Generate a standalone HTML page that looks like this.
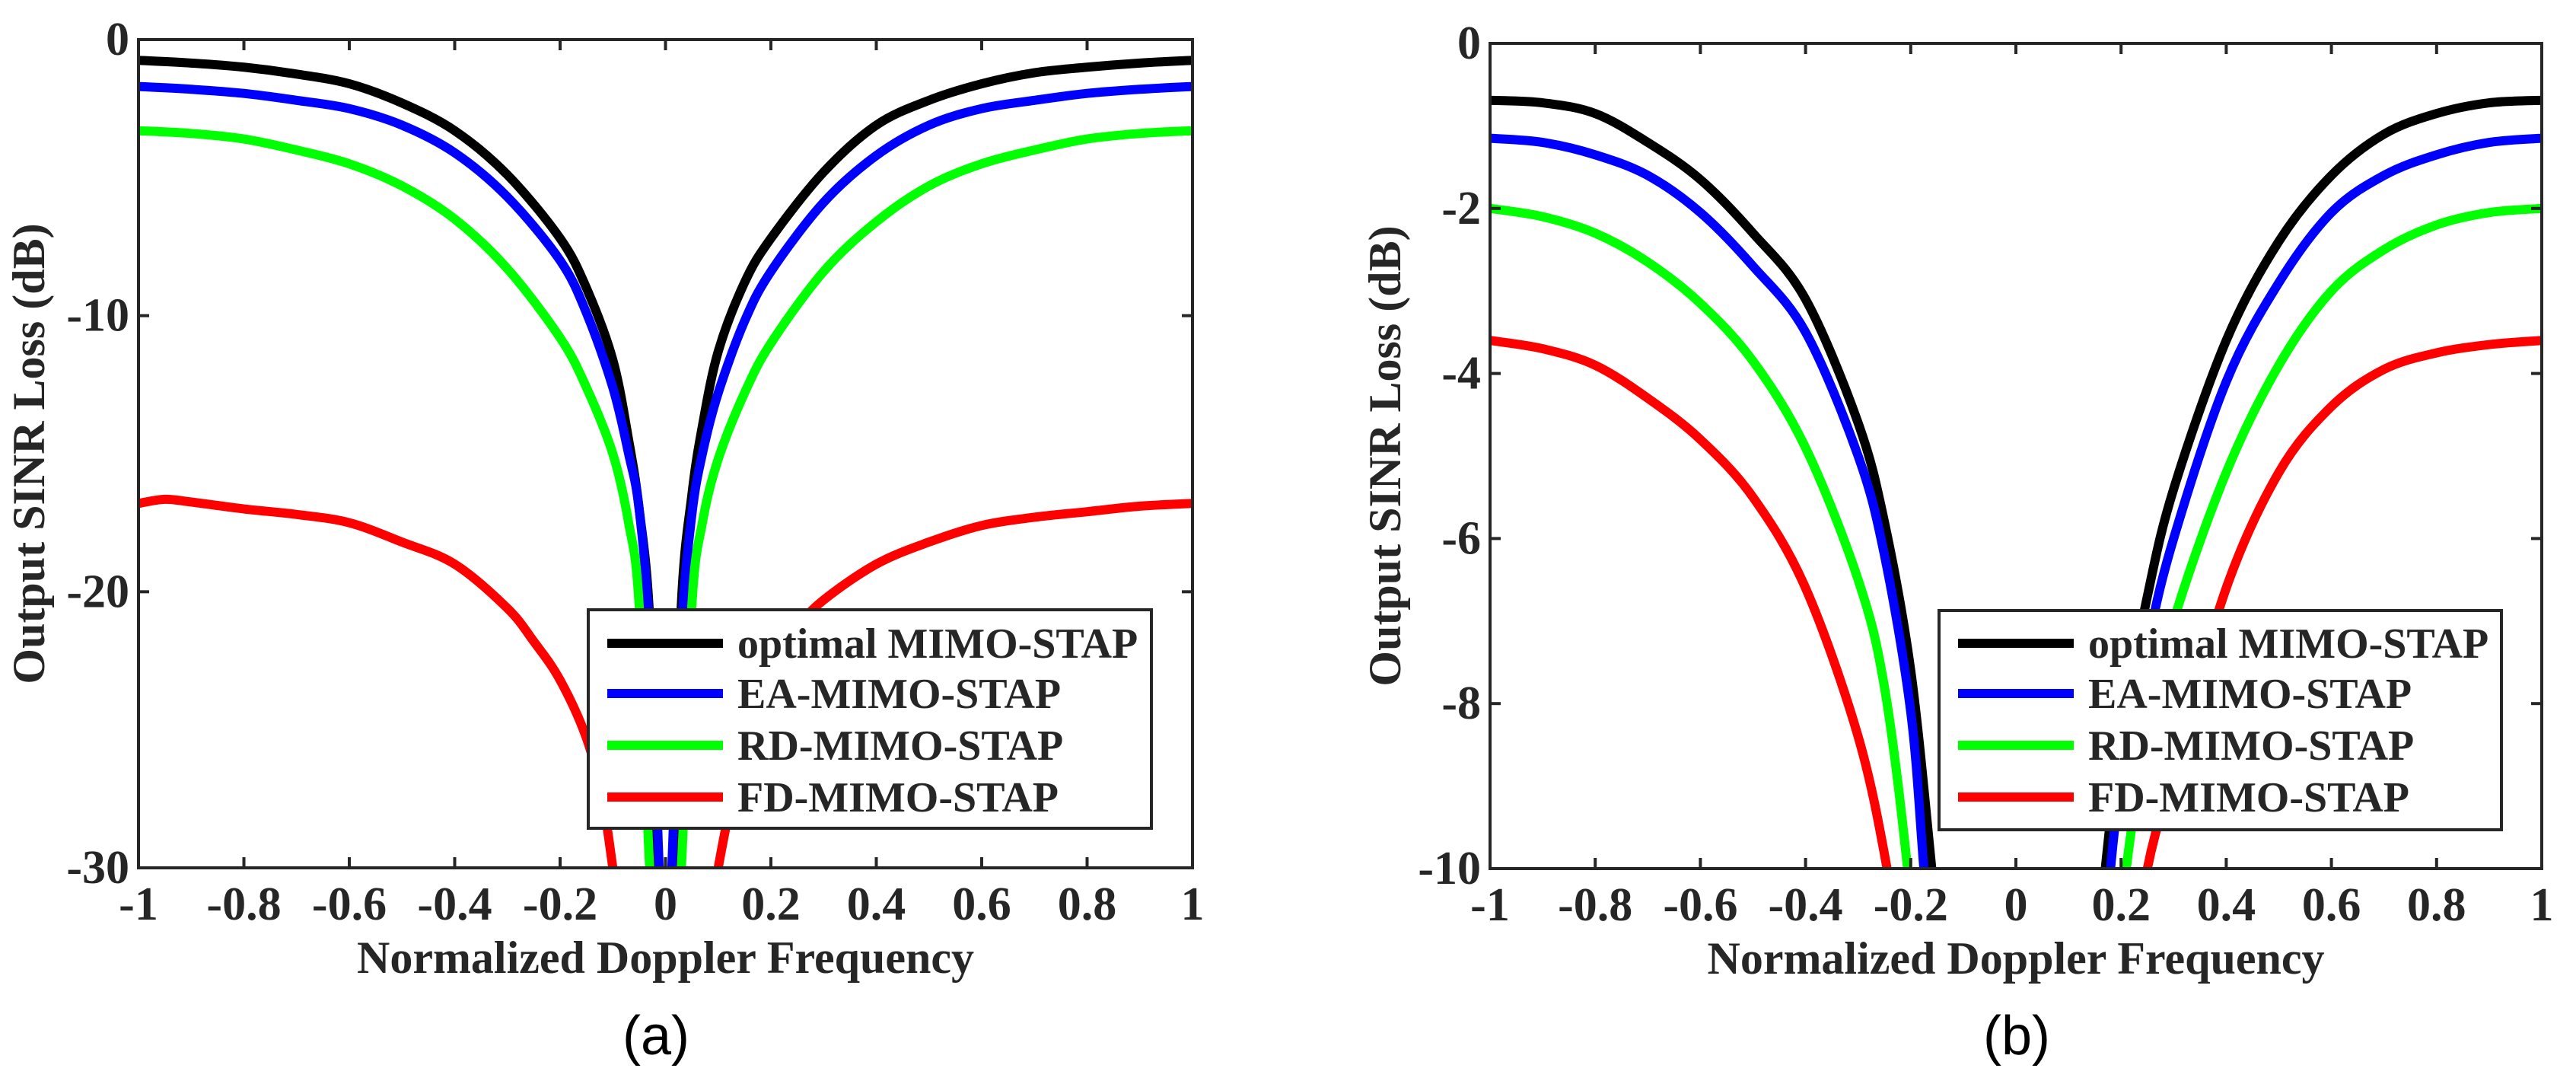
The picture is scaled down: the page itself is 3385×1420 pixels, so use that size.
<!DOCTYPE html>
<html><head><meta charset="utf-8"><style>
html,body{margin:0;padding:0;background:#fff;overflow:hidden;}
svg{display:block;}
text{font-family:"Liberation Serif",serif;font-weight:bold;fill:#262626;}
</style></head><body>
<svg id="fig" width="3385" height="1420" viewBox="0 0 3385 1420" xmlns="http://www.w3.org/2000/svg"></svg>
<script>
// ---- Panel (a) data ----
const xA_black=[-1,-0.9,-0.8,-0.7,-0.6,-0.5,-0.4,-0.3,-0.2,-0.15,-0.1,-0.07,-0.05,-0.03,-0.015,-0.005,0.005,0.015,0.03,0.05,0.07,0.1,0.15,0.2,0.3,0.4,0.5,0.6,0.7,0.8,0.9,1];
const yA_black=[-0.75,-0.85,-1.0,-1.25,-1.6,-2.3,-3.3,-4.9,-7.2,-9.0,-11.6,-14.5,-17,-21,-30,-36,-36,-30,-20.5,-16.5,-14,-11.3,-8.8,-7.2,-4.8,-3.1,-2.2,-1.6,-1.2,-1.0,-0.85,-0.75];
const xA_blue=[-1,-0.9,-0.8,-0.7,-0.6,-0.5,-0.4,-0.3,-0.2,-0.15,-0.1,-0.07,-0.05,-0.03,-0.012,0,0.012,0.03,0.05,0.07,0.1,0.15,0.2,0.3,0.4,0.5,0.6,0.7,0.8,0.9,1];
const yA_blue=[-1.7,-1.8,-1.95,-2.2,-2.5,-3.1,-4.1,-5.7,-8.0,-9.9,-12.6,-15,-17,-21.5,-30,-36,-30,-21.5,-17.2,-15,-12.8,-10.2,-8.4,-5.9,-4.2,-3.1,-2.5,-2.2,-1.95,-1.8,-1.7];
const xA_green=[-1,-0.9,-0.8,-0.7,-0.6,-0.5,-0.4,-0.3,-0.2,-0.15,-0.1,-0.07,-0.05,-0.03,0,0.03,0.05,0.07,0.1,0.15,0.2,0.3,0.4,0.5,0.6,0.7,0.8,0.9,1];
const yA_green=[-3.3,-3.4,-3.6,-4.0,-4.5,-5.3,-6.5,-8.3,-10.8,-12.6,-15,-17.5,-20.5,-30,-38,-30,-20.5,-17.5,-15.2,-12.8,-11,-8.4,-6.6,-5.3,-4.5,-4.0,-3.6,-3.4,-3.3];
const xA_red=[-1,-0.95,-0.9,-0.8,-0.7,-0.6,-0.5,-0.4,-0.3,-0.25,-0.2,-0.15,-0.12,-0.1,-0.08,0.08,0.1,0.15,0.2,0.25,0.3,0.4,0.5,0.6,0.7,0.8,0.9,1];
const yA_red=[-16.8,-16.65,-16.75,-17.0,-17.2,-17.5,-18.2,-19.0,-20.6,-21.8,-23.2,-25.3,-27.5,-30,-33,-33,-30,-25.5,-22.8,-21.3,-20.3,-19.0,-18.2,-17.6,-17.3,-17.1,-16.9,-16.8];
const ticksA_y=[0,-10,-20,-30];
// ---- Panel (b) data ----
const xB_black=[-1,-0.9,-0.8,-0.7,-0.6,-0.5,-0.4,-0.3,-0.25,-0.2,-0.16,-0.13,0.14,0.17,0.2,0.25,0.3,0.4,0.5,0.6,0.7,0.8,0.9,1];
const yB_black=[-0.69,-0.72,-0.85,-1.2,-1.65,-2.3,-3.1,-4.6,-5.8,-7.6,-10,-12,-12,-10,-8.4,-6.7,-5.4,-3.6,-2.4,-1.6,-1.1,-0.85,-0.72,-0.69];
const xB_blue=[-1,-0.9,-0.8,-0.7,-0.6,-0.5,-0.4,-0.3,-0.25,-0.2,-0.175,-0.15,0.155,0.18,0.2,0.25,0.3,0.4,0.5,0.6,0.7,0.8,0.9,1];
const yB_blue=[-1.15,-1.2,-1.35,-1.6,-2.05,-2.7,-3.5,-5.0,-6.2,-8.1,-10,-12,-12,-10,-9.0,-7.3,-6.0,-4.1,-2.9,-2.05,-1.6,-1.35,-1.2,-1.15];
const xB_green=[-1,-0.9,-0.8,-0.7,-0.6,-0.5,-0.4,-0.3,-0.25,-0.206,-0.18,0.185,0.21,0.25,0.3,0.4,0.5,0.6,0.7,0.8,0.9,1];
const yB_green=[-2.0,-2.1,-2.3,-2.65,-3.15,-3.85,-4.9,-6.5,-7.8,-10,-12,-12,-10,-8.4,-7.0,-5.2,-3.9,-3.0,-2.5,-2.2,-2.05,-2.0];
const xB_red=[-1,-0.9,-0.8,-0.7,-0.6,-0.5,-0.4,-0.3,-0.245,-0.22,0.225,0.25,0.3,0.4,0.5,0.6,0.7,0.8,0.9,1];
const yB_red=[-3.6,-3.7,-3.9,-4.3,-4.8,-5.5,-6.6,-8.4,-10,-11.2,-11.2,-10,-8.8,-6.6,-5.2,-4.4,-3.95,-3.75,-3.65,-3.6];
const ticksB_y=[0,-2,-4,-6,-8,-10];
const ticksX=[-1,-0.8,-0.6,-0.4,-0.2,0,0.2,0.4,0.6,0.8,1];
const legendLabels=["optimal MIMO-STAP","EA-MIMO-STAP","RD-MIMO-STAP","FD-MIMO-STAP"];
const colors=["#000000","#0000ff","#00ff00","#ff0000"];

const NS="http://www.w3.org/2000/svg";
const svg=document.getElementById('fig');
function el(tag,attrs,parent){const e=document.createElementNS(NS,tag);for(const k in attrs)e.setAttribute(k,attrs[k]);(parent||svg).appendChild(e);return e;}
function smooth(pts){let d="M"+pts[0][0]+","+pts[0][1];for(let i=0;i<pts.length-1;i++){const p0=pts[i-1]||pts[i],p1=pts[i],p2=pts[i+1],p3=pts[i+2]||p2;const c1x=p1[0]+(p2[0]-p0[0])/6,c1y=p1[1]+(p2[1]-p0[1])/6,c2x=p2[0]-(p3[0]-p1[0])/6,c2y=p2[1]-(p3[1]-p1[1])/6;d+=" C"+c1x+","+c1y+" "+c2x+","+c2y+" "+p2[0]+","+p2[1];}return d;}

function panel(id,L,R,T,B,ymin,yticks,series,leg,cap,capX,ylabX){
  const g=el('g',{});
  
  
  const sx=v=>L+(v+1)/2*(R-L);
  const sy=v=>T+(0-v)/(0-ymin)*(B-T);
  const cp=el('clipPath',{id:'clip'+id},g);
  el('rect',{x:L,y:T,width:R-L,height:B-T},cp);
  series.forEach((s,i)=>{
    const pts=s[0].map((x,j)=>[sx(x),sy(s[1][j])]);
    const p=el('path',{d:smooth(pts),fill:'none',stroke:colors[i],'stroke-width':12,'clip-path':'url(#clip'+id+')','stroke-linejoin':'round'},g);
    
    
  });
  const ax=el('rect',{x:L,y:T,width:R-L,height:B-T,fill:'none',stroke:'#262626','stroke-width':4},g);
  
  
  ticksX.forEach(t=>{
    const x=sx(t);
    el('line',{x1:x,y1:B,x2:x,y2:B-14,stroke:'#262626','stroke-width':4},g);
    el('line',{x1:x,y1:T,x2:x,y2:T+14,stroke:'#262626','stroke-width':4},g);
    const tx=el('text',{x:x,y:B+68,'font-size':62,'text-anchor':'middle'},g);
    tx.textContent=String(t);
    
    
  });
  yticks.forEach(t=>{
    const y=sy(t);
    el('line',{x1:L,y1:y,x2:L+14,y2:y,stroke:'#262626','stroke-width':4},g);
    el('line',{x1:R,y1:y,x2:R-14,y2:y,stroke:'#262626','stroke-width':4},g);
    const tx=el('text',{x:L-12,y:y+20,'font-size':62,'text-anchor':'end'},g);
    tx.textContent=String(t);
    
    
  });
  const xl=el('text',{x:(L+R)/2,y:B+138,'font-size':60,'text-anchor':'middle'},g);
  xl.textContent='Normalized Doppler Frequency';
  
  
  const yy=(T+B)/2;
  const yl=el('text',{x:ylabX,y:yy,'font-size':60,'text-anchor':'middle',transform:'rotate(-90 '+ylabX+' '+yy+')'},g);
  yl.textContent='Output SINR Loss (dB)';
  
  
  const lg=el('g',{},g);
  
  
  el('rect',{x:leg[0],y:leg[1],width:leg[2]-leg[0],height:leg[3]-leg[1],fill:'#fff',stroke:'#262626','stroke-width':4},lg);
  const rows=[845,911,979,1047];
  legendLabels.forEach((lab,i)=>{
    const ent=el('g',{},lg);
    
    
    el('line',{x1:leg[0]+25,y1:rows[i],x2:leg[0]+177,y2:rows[i],stroke:colors[i],'stroke-width':12},ent);
    const t=el('text',{x:leg[0]+196,y:rows[i]+19,'font-size':56},ent);
    t.textContent=lab;
  });
  const c=el('text',{x:capX,y:1385,'font-size':72,'text-anchor':'middle',style:'font-family:"Liberation Sans",sans-serif;font-weight:normal;fill:#000'},g);
  c.textContent=cap;
  
  
}
panel('a',182,1567,52,1140,-30,ticksA_y,[[xA_black,yA_black],[xA_blue,yA_blue],[xA_green,yA_green],[xA_red,yA_red]],[773,801,1513,1088],'(a)',862,58);
panel('b',1958,3340,57,1141,-10,ticksB_y,[[xB_black,yB_black],[xB_blue,yB_blue],[xB_green,yB_green],[xB_red,yB_red]],[2548,802,3287,1090],'(b)',2650,1840);
</script>
</body></html>
